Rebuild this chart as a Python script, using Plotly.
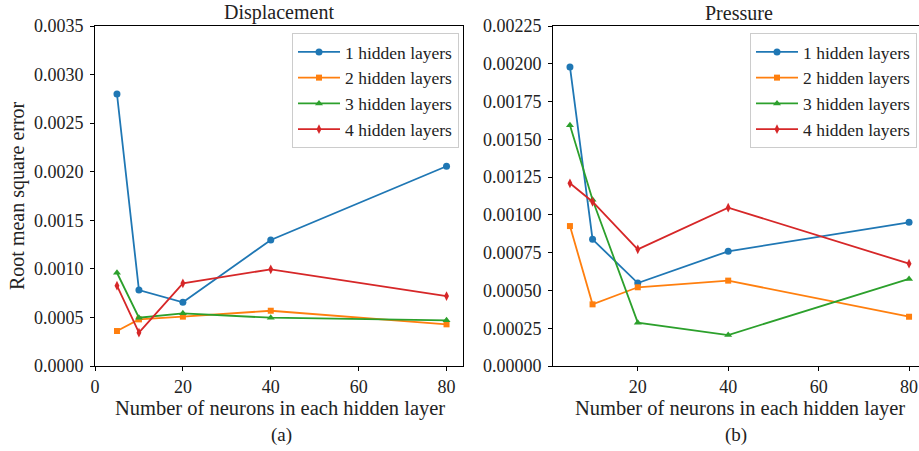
import plotly.graph_objects as go

neurons = [5, 10, 20, 40, 80]
series_names = ["1 hidden layers", "2 hidden layers", "3 hidden layers", "4 hidden layers"]

disp_1 = [0.00280, 0.000782, 0.000656, 0.001297, 0.002056]
disp_2 = [0.000360, 0.000480, 0.000508, 0.000569, 0.000429]
disp_3 = [0.000960, 0.000497, 0.000542, 0.000497, 0.000470]
disp_4 = [0.000827, 0.000343, 0.000851, 0.000995, 0.000720]

pres_1 = [0.001979, 0.000838, 0.000549, 0.000759, 0.000951]
pres_2 = [0.000926, 0.000408, 0.000521, 0.000565, 0.000326]
pres_3 = [0.001593, 0.001100, 0.000287, 0.000205, 0.000576]
pres_4 = [0.001209, 0.001087, 0.000772, 0.001048, 0.000677]

x_ticks_left = [0, 20, 40, 60, 80]
x_ticks_right = [20, 40, 60, 80]
y_ticks_left = [0, 0.0005, 0.0010, 0.0015, 0.0020, 0.0025, 0.0030, 0.0035]
y_ticks_right = [0, 0.00025, 0.00050, 0.00075, 0.00100, 0.00125, 0.00150, 0.00175, 0.00200, 0.00225]

colors = ["#1f77b4", "#ff7f0e", "#2ca02c", "#d62728"]
symbols = ["circle", "square", "triangle-up", "diamond-tall"]
msizes = [7, 6, 7, 7]

FONT = "Liberation Serif"
W, H = 919, 451

fig = go.Figure()
for i, ys in enumerate([disp_1, disp_2, disp_3, disp_4]):
    fig.add_trace(go.Scatter(
        x=neurons, y=ys, mode="lines+markers", name=series_names[i],
        line=dict(color=colors[i], width=1.8),
        marker=dict(symbol=symbols[i], size=msizes[i], color=colors[i]),
        xaxis="x", yaxis="y", legend="legend"))
for i, ys in enumerate([pres_1, pres_2, pres_3, pres_4]):
    fig.add_trace(go.Scatter(
        x=neurons, y=ys, mode="lines+markers", name=series_names[i],
        line=dict(color=colors[i], width=1.8),
        marker=dict(symbol=symbols[i], size=msizes[i], color=colors[i]),
        xaxis="x2", yaxis="y2", legend="legend2"))

axis_common = dict(showgrid=False, zeroline=False, showline=True, linecolor="black",
                   linewidth=1, ticks="outside", ticklen=4, tickwidth=1, tickcolor="black",
                   automargin=False,
                   tickfont=dict(family=FONT, size=18, color="#222"))

ybot = (H - 366) / H
ytop = (H - 26) / H

legend_common = dict(bgcolor="rgba(255,255,255,0.85)", bordercolor="#cccccc", borderwidth=1,
                     font=dict(family=FONT, size=17.5, color="#222"), tracegroupgap=0,
                     itemwidth=42, yanchor="top", xanchor="right")

fig.update_layout(
    width=W, height=H,
    margin=dict(l=0, r=0, t=0, b=0, autoexpand=False),
    plot_bgcolor="white", paper_bgcolor="white",
    font=dict(family=FONT, size=18, color="#222"),
    xaxis=dict(domain=[95 / W, 463 / W], range=[0, 83.75], tickvals=x_ticks_left,
               mirror=True, anchor="y", **axis_common),
    yaxis=dict(domain=[ybot, ytop], range=[0, 0.0035], tickvals=y_ticks_left,
               tickformat=".4f", mirror=True, anchor="x", ticklabelstandoff=3, **axis_common),
    xaxis2=dict(domain=[553 / W, 1.0], range=[1.25, 82.2], tickvals=x_ticks_right,
                mirror=True, anchor="y2", **axis_common),
    yaxis2=dict(domain=[ybot, ytop], range=[0, 0.00225], tickvals=y_ticks_right,
                tickformat=".5f", mirror=False, anchor="x2", ticklabelstandoff=3, **axis_common),
    legend=dict(x=459 / W, y=(H - 33) / H, **legend_common),
    legend2=dict(x=917 / W, y=(H - 33) / H, **legend_common),
    showlegend=True,
)

def ann(text, x, y, size, angle=0):
    fig.add_annotation(text=text, x=x / W, y=(H - y) / H, xref="paper", yref="paper",
                       showarrow=False, textangle=angle, xanchor="center", yanchor="middle",
                       font=dict(family=FONT, size=size, color="#222"))

ann("Displacement", 279, 13, 20)
ann("Pressure", 739, 13, 20)
ann("Number of neurons in each hidden layer", 280, 408, 20.5)
ann("Number of neurons in each hidden layer", 740, 408, 20.5)
ann("(a)", 281, 435, 19)
ann("(b)", 736, 435, 19)
ann("Root mean square error", 17, 196, 20, angle=-90)

fig.write_html("out.html", config={"displayModeBar": False},
               post_script="document.body.style.margin='0';document.body.style.padding='0';")
